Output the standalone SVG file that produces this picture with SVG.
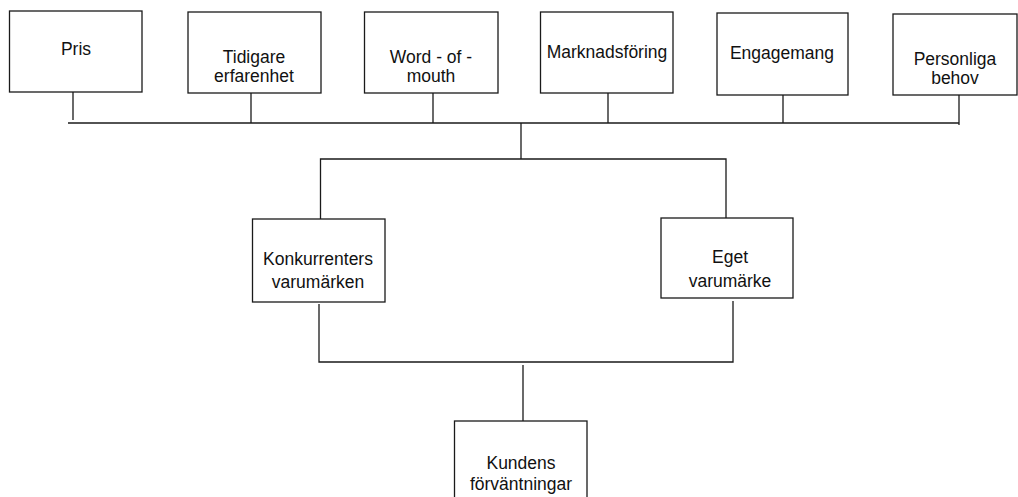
<svg xmlns="http://www.w3.org/2000/svg" width="1018" height="497" viewBox="0 0 1018 497">
  <style>
    .box { fill: #ffffff; stroke: #1a1a1a; stroke-width: 1.3; }
    .wire { fill: none; stroke: #1a1a1a; stroke-width: 1.3; }
    text { font-family: "Liberation Sans", Arial, sans-serif; font-size: 17.5px; fill: #111111; text-anchor: middle; }
  </style>
  <rect width="1018" height="497" fill="#ffffff"/>

  <!-- connectors -->
  <g id="connectors">
    <!-- factor stubs down to the collector bar -->
    <path class="wire" d="M73 92 V120"/>
    <path class="wire" d="M251 93 V123"/>
    <path class="wire" d="M433 93 V123"/>
    <path class="wire" d="M608 93 V123"/>
    <path class="wire" d="M783 95 V123"/>
    <path class="wire" d="M959 95 V125"/>
    <path class="wire" d="M68 123 H959"/>
    <!-- split to the two brand boxes -->
    <path class="wire" d="M521 123 V159"/>
    <path class="wire" d="M320.5 219 V159 H726 V218"/>
    <!-- merge to customer expectations -->
    <path class="wire" d="M319 304 V362 H733 V301"/>
    <path class="wire" d="M523 365 V421"/>
  </g>

  <!-- top row of factors -->
  <g id="pris">
    <rect class="box" x="9.5" y="11" width="132.5" height="81"/>
    <text x="76" y="55">Pris</text>
  </g>
  <g id="tidigare-erfarenhet">
    <rect class="box" x="188" y="12" width="133" height="81"/>
    <text x="254" y="63">Tidigare</text>
    <text x="254" y="82">erfarenhet</text>
  </g>
  <g id="word-of-mouth">
    <rect class="box" x="364.5" y="12" width="133.5" height="81"/>
    <text x="431" y="63">Word - of -</text>
    <text x="431" y="82">mouth</text>
  </g>
  <g id="marknadsforing">
    <rect class="box" x="540.5" y="12" width="132.5" height="81"/>
    <text x="607" y="58">Marknadsföring</text>
  </g>
  <g id="engagemang">
    <rect class="box" x="717" y="13" width="131" height="82"/>
    <text x="782" y="59">Engagemang</text>
  </g>
  <g id="personliga-behov">
    <rect class="box" x="893" y="14" width="124" height="81"/>
    <text x="955" y="65">Personliga</text>
    <text x="955" y="84">behov</text>
  </g>

  <!-- brand level -->
  <g id="konkurrenters-varumarken">
    <rect class="box" x="252.5" y="219" width="132.5" height="83"/>
    <text x="318" y="265">Konkurrenters</text>
    <text x="318" y="288">varumärken</text>
  </g>
  <g id="eget-varumarke">
    <rect class="box" x="661" y="218" width="132" height="80"/>
    <text x="730" y="263">Eget</text>
    <text x="730" y="287">varumärke</text>
  </g>

  <!-- outcome -->
  <g id="kundens-forvantningar">
    <rect class="box" x="454.5" y="421" width="132.5" height="90"/>
    <text x="521" y="469">Kundens</text>
    <text x="521" y="490">förväntningar</text>
  </g>
</svg>
